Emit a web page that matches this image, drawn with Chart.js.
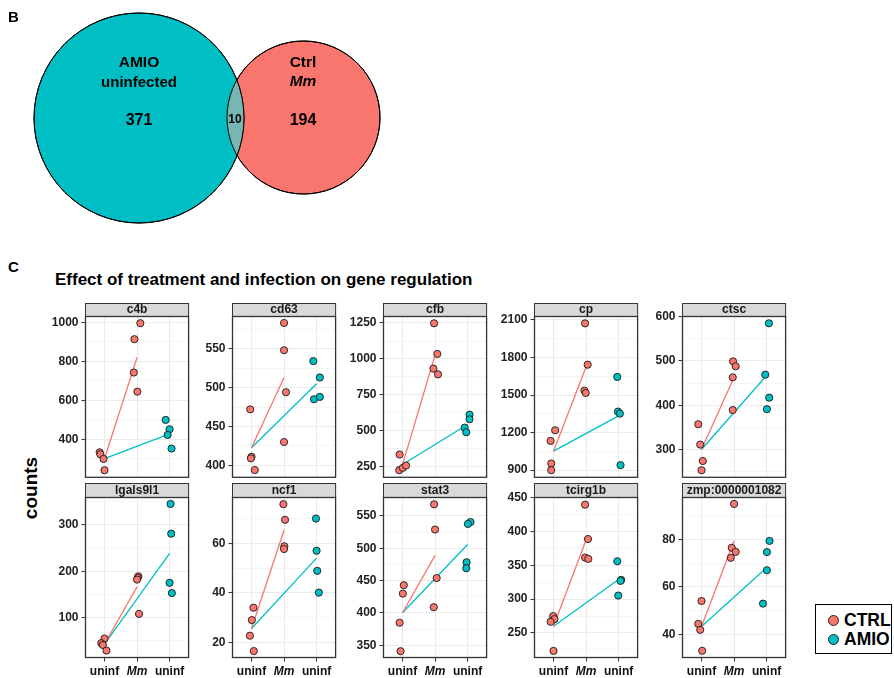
<!DOCTYPE html>
<html><head><meta charset="utf-8">
<script src="https://cdn.jsdelivr.net/npm/chart.js@4.4.0/dist/chart.umd.min.js"></script>
<style>
body{margin:0;background:#fff;font-family:"Liberation Sans",Arial,sans-serif;}
#root{position:relative;width:894px;height:678px;overflow:hidden;background:#fff;}
.t{position:absolute;font-weight:bold;color:#000;white-space:nowrap;line-height:1;}
.c{transform:translate(-50%,-50%);}
canvas{position:absolute;}
.lg{position:absolute;left:815px;top:604px;width:77px;height:50px;border:1.3px solid #000;box-sizing:border-box;background:#fff;}
.dot{position:absolute;width:9px;height:9px;border-radius:50%;border:1px solid #222;}
</style></head><body><div id="root">
<div class="t" style="left:8px;top:9px;font-size:15px;">B</div>
<div class="t" style="left:8px;top:259px;font-size:15px;">C</div>
<div class="t" style="left:55px;top:271px;font-size:17px;">Effect of treatment and infection on gene regulation</div>
<div class="t c" style="left:30px;top:488px;font-size:19px;transform:translate(-50%,-50%) rotate(-90deg);">counts</div>
<div class="t c" style="left:139px;top:62px;font-size:15.5px;">AMIO</div>
<div class="t c" style="left:139px;top:81px;font-size:15px;">uninfected</div>
<div class="t c" style="left:139px;top:120px;font-size:16px;">371</div>
<div class="t c" style="left:303px;top:62px;font-size:15.5px;">Ctrl</div>
<div class="t c" style="left:303px;top:81px;font-size:15.5px;font-style:italic;">Mm</div>
<div class="t c" style="left:303px;top:120px;font-size:16px;">194</div>
<div class="t c" style="left:235px;top:119px;font-size:12px;">10</div>
<div class="lg">
 <div class="dot" style="left:12px;top:10px;background:#F8766D;"></div>
 <div class="t" style="left:28px;top:7px;font-size:17.5px;">CTRL</div>
 <div class="dot" style="left:12px;top:29px;background:#00BFC4;"></div>
 <div class="t" style="left:28px;top:26px;font-size:17.5px;">AMIO</div>
</div>
</div>
<script>
// ---------- Venn data ----------
const vennSets = ['AMIO uninfected', 'Ctrl Mm'];
const vennX = [139, 303.5];
const vennY = [118, 117.5];
const vennR = [105, 76.5];

// ---------- Facet data ----------
const genes = ['c4b','cd63','cfb','cp','ctsc','lgals9l1','ncf1','stat3','tcirg1b','zmp:0000001082'];
const xTickValues = [1, 2, 3];
const xTickLabels = ['uninf', 'Mm', 'uninf'];

const ctrlUninfCounts = [
 [333,323,299,241],[472,411,409,394],[336,227,243,259],[1219,1134,953,900],[357,311,274,253],
 [55,45,41,29],[34,29,22.7,16.5],[443,430,385,341],[275,270.5,266.5,223.5],[54.1,44.5,42,33.2]];
const ctrlUninfX = [
 [0.85,0.87,0.97,1.0],[0.96,1.0,0.98,1.1],[0.91,0.9,1.01,1.11],[1.05,0.91,0.93,0.93],[0.9,0.96,1.04,1.0],
 [1.0,0.9,0.95,1.06],[1.06,1.01,0.95,1.07],[1.04,1.01,0.91,0.94],[0.99,1.03,0.91,1.0],[1.0,0.9,0.96,1.02]];
const ctrlMmCounts = [
 [995,913,742,644],[583,548,494,430],[1248,1035,933,893],[2073,1743,1536,1517],[499,488,463,389],
 [189,186,182,108],[75.8,69.5,58.8,57.7],[568,529,454,409],[439.7,388.9,361.5,359.5],[94.8,76.4,74.7,72.2]];
const ctrlMmX = [
 [2.1,1.92,1.9,2.01],[2.0,2.0,2.06,2.0],[1.97,2.07,1.95,2.09],[1.97,2.05,1.95,1.99],[1.97,2.05,1.96,1.96],
 [2.04,2.02,2.0,2.06],[1.98,2.03,2.01,2.0],[1.97,2.0,2.05,1.96],[1.97,2.06,1.97,2.07],[2.0,1.93,2.05,1.9]];
const amioUninfCounts = [
 [499,451,422,352],[534,513,485,488],[613,581,523,491],[1645,1368,1352,940],[585,469,417,391],
 [345,281,175,153],[70,57,48.9,40.1],[540.7,537.7,478.5,469.3],[356,328.5,327,305.3],[79.3,74.6,67,53]];
const amioUninfX = [
 [2.88,3.0,2.94,3.06],[2.9,3.1,2.92,3.1],[3.06,3.06,2.91,2.96],[2.96,2.98,3.04,3.06],[3.07,2.96,3.08,3.01],
 [3.03,3.05,3.0,3.07],[2.98,3.0,3.02,3.07],[3.09,3.01,2.97,2.96],[2.96,3.08,3.06,2.99],[3.09,3.01,3.01,2.89]];
// mean lines
const lineStart   = [300, 422.7, 266, 1052, 300, 43, 25.6, 400.4, 260, 43.4];
const ctrlLineEnd = [820, 513, 1027, 1725, 463, 166.5, 65.3, 489, 387.4, 79.4];
const amioLineEnd = [427, 505, 545, 1334, 467, 238.5, 54, 506, 329, 68];

// axis ranges and tick labels
const yMin = [202, 384, 174, 839, 236, 13, 13.7, 330.5, 213, 30.2];
const yMax = [1032, 592, 1299, 2132, 601.5, 360, 78.7, 579.3, 451, 97.7];
const yMajor = [
 [400,600,800,1000],[400,450,500,550],[250,500,750,1000,1250],[900,1200,1500,1800,2100],[300,400,500,600],
 [100,200,300],[20,40,60],[350,400,450,500,550],[250,300,350,400,450],[40,60,80]];
const yMinor = [
 [300,500,700,900],[425,475,525,575],[375,625,875,1125],[1050,1350,1650,1950],[250,350,450,550],
 [50,150,250,350],[30,50,70],[375,425,475,525,575],[225,275,325,375,425],[50,70,90]];

const CTRL_COLOR = '#F8766D';
const AMIO_COLOR = '#00BFC4';
const INTERSECT_COLOR = '#78B6B3';
const FONT = '"Liberation Sans", Arial, sans-serif';
Chart.defaults.font.family = FONT;

const root = document.getElementById('root');

// ---------- Venn ----------
(function(){
 const cv = document.createElement('canvas');
 cv.width = 400; cv.height = 240;
 cv.style.left = '0px'; cv.style.top = '0px';
 root.insertBefore(cv, root.firstChild);
 const overlapPlugin = {
  id:'overlap',
  afterDatasetsDraw(chart){
   const a = chart.getDatasetMeta(0).data[0], b = chart.getDatasetMeta(1).data[0];
   const ra = a.options.radius, rb = b.options.radius;
   const ctx = chart.ctx;
   ctx.save();
   ctx.beginPath(); ctx.arc(a.x, a.y, ra, 0, Math.PI*2); ctx.clip();
   ctx.beginPath(); ctx.arc(b.x, b.y, rb, 0, Math.PI*2);
   ctx.fillStyle = INTERSECT_COLOR; ctx.fill();
   ctx.restore();
   ctx.save();
   ctx.strokeStyle = '#000'; ctx.lineWidth = 1;
   ctx.beginPath(); ctx.arc(a.x, a.y, ra, 0, Math.PI*2); ctx.stroke();
   ctx.beginPath(); ctx.arc(b.x, b.y, rb, 0, Math.PI*2); ctx.stroke();
   ctx.restore();
  }
 };
 new Chart(cv, {
  type:'bubble',
  data:{datasets: vennSets.map((name,k)=>({
    label:name,
    data:[{x:vennX[k], y:vennY[k], r:vennR[k]}],
    backgroundColor: k===0 ? AMIO_COLOR : CTRL_COLOR,
    borderColor:'#000', borderWidth:1, hoverRadius:0
  }))},
  options:{
   responsive:false, animation:false, events:[],
   layout:{padding:0, autoPadding:false},
   clip:false,
   plugins:{legend:{display:false}, tooltip:{enabled:false}},
   scales:{
    x:{display:false, type:'linear', min:0, max:400},
    y:{display:false, type:'linear', min:0, max:240, reverse:true}
   }
  },
  plugins:[overlapPlugin]
 });
})();

// ---------- Facets ----------
const colLeft = [85, 232, 383, 534, 682];
const framePlugin = {
 id:'frame',
 afterDraw(chart){
  const o = chart.options.plugins.frame;
  const {left,right,top,bottom} = chart.chartArea;
  const ctx = chart.ctx;
  ctx.save();
  // strip
  ctx.fillStyle = '#D9D9D9';
  ctx.fillRect(left, top - o.stripH, right-left, o.stripH);
  ctx.strokeStyle = '#333'; ctx.lineWidth = 1;
  ctx.strokeRect(left+0.5, top - o.stripH + 0.5, right-left-1, o.stripH);
  ctx.fillStyle = '#1A1A1A';
  ctx.font = 'bold 12px ' + FONT;
  ctx.textAlign = 'center'; ctx.textBaseline = 'middle';
  ctx.fillText(o.title, (left+right)/2, top - o.stripH/2 + 0.5);
  // panel border
  ctx.lineWidth = 1.3;
  ctx.strokeRect(left+0.5, top+0.5, right-left-1, bottom-top-1);
  ctx.restore();
 }
};

function panel(i){
 const row = Math.floor(i/5), col = i%5;
 const axisW = 50, plotW = 108;
 const stripH = row ? 14 : 13, plotH = row ? 161 : 162, xH = row ? 24 : 10;
 const plotTop = row ? 497 : 316;
 const W = axisW + plotW + 1, H = stripH + plotH + xH;
 const cv = document.createElement('canvas');
 cv.width = W; cv.height = H;
 cv.style.left = (colLeft[col]-axisW) + 'px';
 cv.style.top = (plotTop - stripH) + 'px';
 root.appendChild(cv);
 const pts = (xs, ys) => ys.map((v,k)=>({x:xs[k], y:v}));
 const pointStyle = {borderColor:'#1A1A1A', borderWidth:0.9, pointRadius:3.6, showLine:false};
 new Chart(cv, {
  type:'scatter',
  data:{datasets:[
   Object.assign({label:'CTRL', data: pts(ctrlUninfX[i], ctrlUninfCounts[i]).concat(pts(ctrlMmX[i], ctrlMmCounts[i])), backgroundColor:CTRL_COLOR, order:1}, pointStyle),
   Object.assign({label:'AMIO', data: pts(amioUninfX[i], amioUninfCounts[i]), backgroundColor:AMIO_COLOR, order:2}, pointStyle),
   {label:'CTRL mean', data:[{x:xTickValues[0], y:lineStart[i]},{x:xTickValues[1], y:ctrlLineEnd[i]}], showLine:true, borderColor:CTRL_COLOR, borderWidth:1.3, pointRadius:0, order:3},
   {label:'AMIO mean', data:[{x:xTickValues[0], y:lineStart[i]},{x:xTickValues[2], y:amioLineEnd[i]}], showLine:true, borderColor:AMIO_COLOR, borderWidth:1.3, pointRadius:0, order:4}
  ]},
  options:{
   responsive:false, animation:false, events:[],
   layout:{padding:{top:stripH, right:1, left:0, bottom:0}},
   plugins:{legend:{display:false}, tooltip:{enabled:false}, frame:{stripH:stripH, title:genes[i]}},
   scales:{
    x:{
     type:'linear', min:0.4, max:3.6,
     afterBuildTicks: s => { s.ticks = xTickValues.map(v=>({value:v})); },
     afterFit: s => { s.height = xH; },
     border:{display:false},
     grid:{color:'#EBEBEB', lineWidth:1.1, drawTicks: row===1, tickLength:3.5, tickColor:'#333', tickWidth:1},
     ticks:{
      display: row===1, autoSkip:false, maxRotation:0, padding:3, color:'#111',
      font: ctx => ({family:FONT, size:12, weight:'bold', style: (xTickLabels[ctx.index]==='Mm') ? 'italic' : 'normal'}),
      callback: (v, idx) => xTickLabels[idx]
     }
    },
    y:{
     type:'linear', min:yMin[i], max:yMax[i],
     afterBuildTicks: s => {
      const t = yMajor[i].map(v=>({value:v, minor:false})).concat(yMinor[i].map(v=>({value:v, minor:true})));
      t.sort((a,b)=>a.value-b.value);
      s.ticks = t;
     },
     afterFit: s => { s.width = axisW; },
     border:{display:false},
     grid:{
      color: ctx => (ctx.tick && ctx.tick.minor) ? '#F2F2F2' : '#EBEBEB',
      lineWidth: ctx => (ctx.tick && ctx.tick.minor) ? 0.7 : 1.1,
      drawTicks:true, tickLength:3.5, tickWidth:1,
      tickColor: ctx => (ctx.tick && ctx.tick.minor) ? 'rgba(0,0,0,0)' : '#333'
     },
     ticks:{
      autoSkip:false, padding:3, color:'#222',
      font:{family:FONT, size:12, weight:'bold'},
      callback: (v, idx, ticks) => ticks[idx].minor ? '' : String(v)
     }
    }
   }
  },
  plugins:[framePlugin]
 });
}
for (let i=0;i<genes.length;i++) panel(i);
</script>
</body></html>
